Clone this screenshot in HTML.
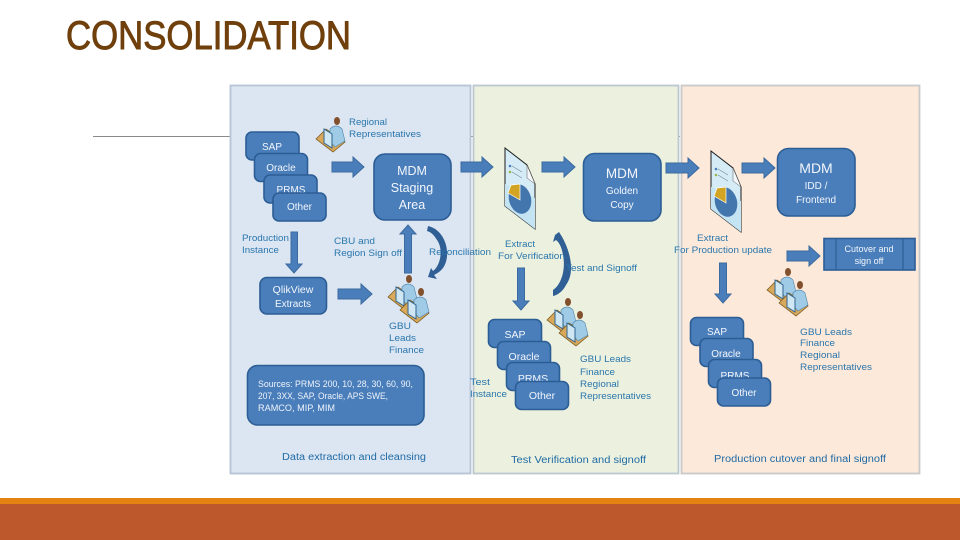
<!DOCTYPE html>
<html>
<head>
<meta charset="utf-8">
<style>
html,body{margin:0;padding:0;background:#fff;width:960px;height:540px;overflow:hidden}
svg{display:block}
text{font-family:"Liberation Sans",sans-serif}
.l{font-size:9.5px;fill:#2a76ad}
.d{font-size:10px;fill:#1f6aa5}
.w{font-size:10px;fill:#f2f6fb;text-anchor:middle}
.b{fill:#4a7ebb;stroke:#2c5d94;stroke-width:1.6}
.a{fill:#4a7ebb;stroke:#3a6a9f;stroke-width:1}
.soft{filter:blur(.35px)}
</style>
</head>
<body>
<svg width="960" height="540" viewBox="0 0 960 540" xmlns="http://www.w3.org/2000/svg">
<defs>
<g id="p">
<polygon points="0,22 10,12 29,25 17,35" fill="#d9a85a" stroke="#7d5f24" stroke-width=".8"/>
<path d="M14,12 Q20,6 26,12 L29,24 L19,30 L14,24Z" fill="#9fcbe6" stroke="#4f86ae" stroke-width=".6"/>
<ellipse cx="21" cy="4" rx="3" ry="4" fill="#82502c"/>
<polygon points="8,12 16,17 16,31 8,26" fill="#cfe6f3" stroke="#2f6490" stroke-width="1"/>
</g>
<g id="pp"><use href="#p"/><use href="#p" x="12" y="13"/></g>
<g id="doc">
<polygon points="0,0 22,17 30,36 30,81 0,58" fill="#d5ecf7" stroke="#1c1c1c" stroke-width="1"/>
<polygon points="22,17 30,36 22,30" fill="#f4f8fb" stroke="#555" stroke-width=".5"/>
<polygon points="0,36 30,50 30,81 0,58" fill="#c4e4f3"/>
<circle cx="5" cy="18" r="1.3" fill="#4a7ebb"/><circle cx="5" cy="24" r="1.3" fill="#9ab84f"/>
<line x1="7" y1="18" x2="17" y2="24" stroke="#567" stroke-width=".5"/>
<line x1="7" y1="24" x2="17" y2="30" stroke="#567" stroke-width=".5"/>
<ellipse cx="15" cy="51" rx="11" ry="15" fill="#4376ad" transform="rotate(-15 15 51)"/>
<polygon points="15,52 3,45 6,37 15,36" fill="#d1a523" stroke="#fff" stroke-width=".7"/>
</g>
</defs>

<rect width="960" height="540" fill="#fff"/>
<text x="66" y="49" font-size="40" fill="#6f3f0c" stroke="#6f3f0c" stroke-width=".9" textLength="285" lengthAdjust="spacingAndGlyphs">CONSOLIDATION</text>
<rect x="93" y="136" width="587" height="1" fill="#8a8a8a"/>

<g class="soft">
<rect x="230.500" y="85.500" width="240" height="388" fill="#dce6f2" stroke="#b7c4d6" stroke-width="1.800"/>
<rect x="473.500" y="85.500" width="205" height="388" fill="#ebf1de" stroke="#bcc8d0" stroke-width="1.800"/>
<rect x="681.500" y="85.500" width="238" height="388" fill="#fde9d9" stroke="#c9c9c9" stroke-width="1.800"/>

<!-- stack 1 -->
<rect class="b" x="246" y="132" width="53" height="28" rx="6"/>
<text class="w" x="272" y="150">SAP</text>
<rect class="b" x="254.500" y="153.500" width="53" height="28" rx="6"/>
<text class="w" x="281" y="171">Oracle</text>
<rect class="b" x="264" y="175" width="53" height="28" rx="6"/>
<text class="w" x="291" y="193">PRMS</text>
<rect class="b" x="273" y="193" width="53" height="28" rx="6"/>
<text class="w" x="299.500" y="210">Other</text>

<rect class="b" x="374" y="154" width="77" height="66" rx="11"/>
<text class="w" style="font-size:12.500px" x="412" y="175">MDM</text>
<text class="w" style="font-size:12.500px" x="412" y="192">Staging</text>
<text class="w" style="font-size:12.500px" x="412" y="209">Area</text>

<rect class="b" x="260" y="277.500" width="66.500" height="36.500" rx="7"/>
<text class="w" style="font-size:10.500px" x="293" y="293">QlikView</text>
<text class="w" x="293" y="307">Extracts</text>

<rect class="b" x="247.500" y="365.500" width="176.500" height="59.500" rx="10"/>
<text x="258" y="387" font-size="9.500" fill="#eef3fa" textLength="155" lengthAdjust="spacingAndGlyphs">Sources: PRMS 200, 10, 28, 30, 60, 90,</text>
<text x="258" y="399" font-size="9.500" fill="#eef3fa" textLength="130" lengthAdjust="spacingAndGlyphs">207, 3XX, SAP, Oracle, APS SWE,</text>
<text x="258" y="411" font-size="9.500" fill="#eef3fa" textLength="77" lengthAdjust="spacingAndGlyphs">RAMCO, MIP, MIM</text>

<!-- stack 2 -->
<rect class="b" x="488.500" y="319.500" width="53" height="28" rx="6"/>
<text class="w" style="font-size:10.500px" x="515" y="338">SAP</text>
<rect class="b" x="497.500" y="341.500" width="53" height="28" rx="6"/>
<text class="w" style="font-size:10.500px" x="524" y="360">Oracle</text>
<rect class="b" x="506.500" y="362.500" width="53" height="28" rx="6"/>
<text class="w" style="font-size:10.500px" x="533" y="382">PRMS</text>
<rect class="b" x="515.500" y="381.500" width="53" height="28" rx="6"/>
<text class="w" style="font-size:10.500px" x="542" y="399">Other</text>

<rect class="b" x="583.500" y="153.500" width="77.500" height="67.500" rx="11"/>
<text class="w" style="font-size:13.500px" x="622" y="178">MDM</text>
<text class="w" x="622" y="194">Golden</text>
<text class="w" x="622" y="208">Copy</text>

<!-- stack 3 -->
<rect class="b" x="690.500" y="317.500" width="53" height="28" rx="6"/>
<text class="w" x="717" y="335">SAP</text>
<rect class="b" x="700" y="338.500" width="53" height="28" rx="6"/>
<text class="w" x="726" y="357">Oracle</text>
<rect class="b" x="708.500" y="359.500" width="53" height="28" rx="6"/>
<text class="w" x="735" y="379">PRMS</text>
<rect class="b" x="717.500" y="378" width="53" height="28" rx="6"/>
<text class="w" x="744" y="396">Other</text>

<rect class="b" x="777.500" y="148.500" width="77.500" height="67.500" rx="11"/>
<text class="w" style="font-size:14px" x="816" y="173">MDM</text>
<text class="w" x="816" y="189">IDD /</text>
<text class="w" x="816" y="203">Frontend</text>

<rect x="824" y="238.500" width="91" height="31.500" fill="#4a7ebb" stroke="#2c5d94" stroke-width="1.600"/>
<line x1="836" y1="238.500" x2="836" y2="270" stroke="#2c5d94" stroke-width="1.200"/>
<line x1="903" y1="238.500" x2="903" y2="270" stroke="#2c5d94" stroke-width="1.200"/>
<text class="w" style="font-size:9px" x="869" y="252">Cutover and</text>
<text class="w" style="font-size:9px" x="869" y="264">sign off</text>

<!-- right arrows -->
<polygon class="a" points="332,162 353,162 353,157 364,167 353,177 353,172 332,172"/>
<polygon class="a" points="461,162 482,162 482,157 493,167 482,177 482,172 461,172"/>
<polygon class="a" points="542,162 564,162 564,157 575,167 564,177 564,172 542,172"/>
<polygon class="a" points="666,163 688,163 688,158 699,168 688,178 688,173 666,173"/>
<polygon class="a" points="742,163 764,163 764,158 775,168 764,178 764,173 742,173"/>
<polygon class="a" points="787,251 809,251 809,246 820,256 809,266 809,261 787,261"/>
<polygon class="a" points="338,289 361,289 361,284 372,294 361,304 361,299 338,299"/>

<!-- vertical arrows -->
<polygon class="a" points="291,232 297.500,232 297.500,264 302,264 294,273 286,264 291,264"/>
<polygon class="a" points="404.500,273 411.500,273 411.500,234 416,234 408,225 400,234 404.500,234"/>
<polygon class="a" points="517.500,268 524.500,268 524.500,301 529,301 521,310 513,301 517.500,301"/>
<polygon class="a" points="719.500,263 726.500,263 726.500,294 731,294 723,303 715,294 719.500,294"/>

<!-- curved arrows -->
<path d="M428,226 C446,230 452,255 443,268 C440,272 436,274 434,275 L437,279 L428,277 L431,268 L433,271 C440,266 444,250 437,240 C434,235 431,232 427,231Z" fill="#2f5f95"/>
<path d="M555,235 L559,232 C568,245 577,270 566,285 C563,291 558,295 553,296 L553,290 C561,285 566,270 563,255 C562,249 560,243 556,240 L553,242Z" fill="#2f5f95"/>

<!-- icons -->
<use href="#p" x="316" y="117"/>
<use href="#pp" x="388" y="275"/>
<use href="#pp" x="547" y="298"/>
<use href="#pp" x="767" y="268"/>
<use href="#doc" x="505" y="148"/>
<use href="#doc" x="711" y="151"/>

<!-- labels -->
<text class="l" x="349" y="125" textLength="38" lengthAdjust="spacingAndGlyphs">Regional</text>
<text class="l" x="349" y="137" textLength="72" lengthAdjust="spacingAndGlyphs">Representatives</text>
<text class="l" x="242" y="241" textLength="47" lengthAdjust="spacingAndGlyphs">Production</text>
<text class="l" x="242" y="253" textLength="37" lengthAdjust="spacingAndGlyphs">Instance</text>
<text class="l" x="334" y="244" textLength="41" lengthAdjust="spacingAndGlyphs">CBU and</text>
<text class="l" x="334" y="256" textLength="68" lengthAdjust="spacingAndGlyphs">Region Sign off</text>
<text class="l" x="429" y="255" textLength="62" lengthAdjust="spacingAndGlyphs">Reconciliation</text>
<text class="l" x="505" y="247" textLength="30" lengthAdjust="spacingAndGlyphs">Extract</text>
<text class="l" x="498" y="259" textLength="67" lengthAdjust="spacingAndGlyphs">For Verification</text>
<text class="l" x="566" y="271" textLength="71" lengthAdjust="spacingAndGlyphs">Test and Signoff</text>
<text class="l" x="697" y="241" textLength="31" lengthAdjust="spacingAndGlyphs">Extract</text>
<text class="l" x="674" y="253" textLength="98" lengthAdjust="spacingAndGlyphs">For Production update</text>
<text class="l" x="389" y="329" textLength="22" lengthAdjust="spacingAndGlyphs">GBU</text>
<text class="l" x="389" y="341" textLength="27" lengthAdjust="spacingAndGlyphs">Leads</text>
<text class="l" x="389" y="353" textLength="35" lengthAdjust="spacingAndGlyphs">Finance</text>
<text class="l" x="470" y="385" textLength="20" lengthAdjust="spacingAndGlyphs">Test</text>
<text class="l" x="470" y="397" textLength="37" lengthAdjust="spacingAndGlyphs">Instance</text>
<text class="l" x="580" y="362" textLength="51" lengthAdjust="spacingAndGlyphs">GBU Leads</text>
<text class="l" x="580" y="375" textLength="35" lengthAdjust="spacingAndGlyphs">Finance</text>
<text class="l" x="580" y="387" textLength="39" lengthAdjust="spacingAndGlyphs">Regional</text>
<text class="l" x="580" y="399" textLength="71" lengthAdjust="spacingAndGlyphs">Representatives</text>
<text class="l" x="800" y="335" textLength="52" lengthAdjust="spacingAndGlyphs">GBU Leads</text>
<text class="l" x="800" y="346" textLength="35" lengthAdjust="spacingAndGlyphs">Finance</text>
<text class="l" x="800" y="358" textLength="40" lengthAdjust="spacingAndGlyphs">Regional</text>
<text class="l" x="800" y="370" textLength="72" lengthAdjust="spacingAndGlyphs">Representatives</text>
<text class="d" x="282" y="460" textLength="144" lengthAdjust="spacingAndGlyphs">Data extraction and cleansing</text>
<text class="d" x="511" y="463" textLength="135" lengthAdjust="spacingAndGlyphs">Test Verification and signoff</text>
<text class="d" x="714" y="462" textLength="172" lengthAdjust="spacingAndGlyphs">Production cutover and final signoff</text>
</g>

<!-- footer -->
<rect x="0" y="498" width="960" height="6" fill="#e48312"/>
<rect x="0" y="504" width="960" height="36" fill="#bd582c"/>
</svg>
</body>
</html>
